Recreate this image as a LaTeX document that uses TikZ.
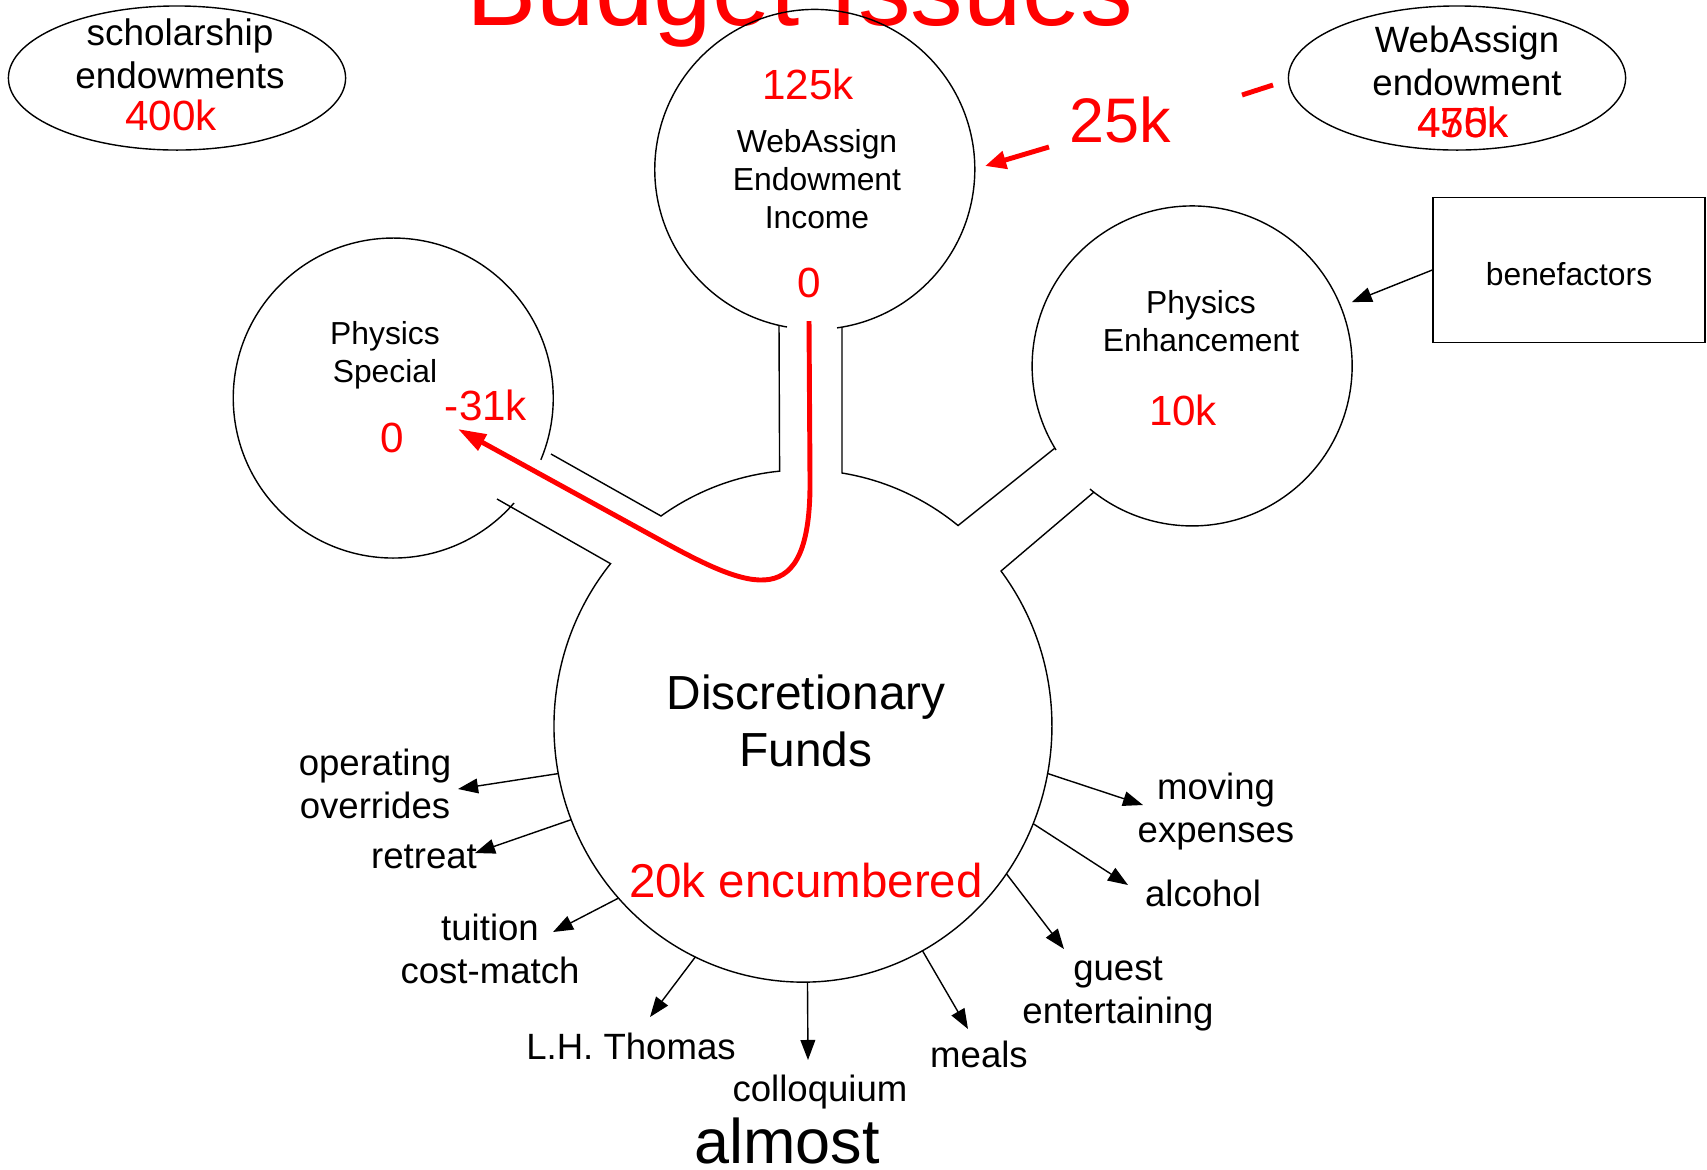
\documentclass[tikz,border=0pt]{standalone}
\usepackage{fontspec}
\setmainfont{Liberation Sans}
\usetikzlibrary{arrows.meta,shapes.geometric,positioning}
\tikzset{%
	txt/.style     = {font=\fontsize{10.4}{12.2}\selectfont, align=center, anchor=base, inner sep=0pt},
	intxt/.style   = {font=\fontsize{9.05}{10.7}\selectfont, align=center, anchor=base, inner sep=0pt},
	num/.style     = {text=red, font=\fontsize{12}{14}\selectfont, anchor=base, inner sep=0pt},
	bignum/.style  = {text=red, font=\fontsize{17.9}{20}\selectfont, anchor=base, inner sep=0pt},
	outline/.style = {line width=0.4pt},
	arrow/.style   = {line width=0.4pt, -{Triangle[length=5.7pt,width=4.2pt]}},
	money/.style   = {red, line width=1.4pt},
	pool/.style    = {circle, minimum size=3.2cm, inner sep=0pt, outer sep=0pt},
	fund/.style    = {draw, ellipse, line width=0.4pt, inner sep=0pt, minimum width=3.37cm, minimum height=1.44cm},
}
\begin{document}
\begin{tikzpicture}[x=0.01cm, y=-0.01cm]
	\useasboundingbox (0,0) rectangle (1707,1169);
	\node[text=red, font=\fontsize{29.9}{32}\selectfont, anchor=base, inner sep=0pt] (title) at (800,25) {Budget Issues};
	
	\node[fund] (schol) at (177,78) {};
	\node[txt, font=\fontsize{10.5}{12.2}\selectfont] (scholtxt) at (180,88) {scholarship\\endowments};
	\node[num] (schol-amt) at (171,130) {400k};
	\node[fund] (wae) at (1457,78) {};
	\node[txt] (waetxt) at (1467,95) {WebAssign\\endowment};
	\node[num] (wae-old) at (1463,137) {450k};
	\node[num] (wae-new) at (1463,137) {475k};
	
	\node[pool] (income) at (815,169) {};
	\node[pool] (special) at (393,398) {};
	\node[pool] (enhance) at (1192,366) {};
	\node[ellipse, minimum width=4.98cm, minimum height=5.12cm, inner sep=0pt, outer sep=0pt] (disc) at (803,726) {};
	
	\draw[outline] (787,327) arc[start angle=100, end angle=442, radius=160];
	\draw[outline] (514,503) arc[start angle=41, end angle=382.7, radius=160];
	\draw[outline] (1056,450) arc[start angle=148.3, end angle=489.7, radius=160];
	\draw[outline] (551,454) -- (661,516) arc[start angle=235.1, end angle=264.5, x radius=249, y radius=256] -- (779,325);
	\draw[outline] (842,327) -- (842,473) arc[start angle=279, end angle=308.5, x radius=249, y radius=256] -- (1055,448);
	\draw[outline] (1094,492) -- (1001,571) arc[start angle=-37.3, end angle=219.4, x radius=249, y radius=256] -- (497,499);
	
	\node[num] (inc-top) at (808,99) {125k};
	\node[intxt] (inctxt) at (817,228) {WebAssign\\Endowment\\Income};
	\node[num] (inc-bal) at (809,297) {0};
	\node[intxt] (spectxt) at (385,382) {Physics\\Special};
	\node[num] (spec-bal) at (392,452) {0};
	\node[num] (spec-out) at (486,420) {-31k};
	\node[intxt] (enhtxt) at (1201,351) {Physics\\Enhancement};
	\node[num] (enh-bal) at (1183,425) {10k};
	\node[txt, font=\fontsize{13.6}{16.2}\selectfont] (disctxt) at (806,766) {Discretionary\\Funds};
	\node[num, font=\fontsize{13.5}{16}\selectfont] (disc-enc) at (806,897) {20k encumbered};
	\node[bignum] (transfer) at (1120,142) {25k};
	\node[intxt, draw, line width=0.4pt, anchor=center, text height=0.32cm, minimum width=2.72cm, minimum height=1.45cm] (bene) at (1569,270) {benefactors};
	
	\node[txt] (ops) at (375,818) {operating\\overrides};
	\node[txt] (retreat) at (424,868) {retreat};
	\node[txt] (tuition) at (490,983) {tuition\\cost-match};
	\node[txt] (thomas) at (631,1059) {L.H. Thomas};
	\node[txt] (colloq) at (820,1101) {colloquium};
	\node[txt] (meals) at (979,1067) {meals};
	\node[txt] (guest) at (1118,1023) {guest\\entertaining};
	\node[txt] (alcohol) at (1203,906) {alcohol};
	\node[txt] (moving) at (1216,842) {moving\\expenses};
	\node[font=\fontsize{17.9}{20}\selectfont, anchor=base, inner sep=0pt] (almost) at (787,1163) {almost};
	
	\coordinate (ops-in) at (458,789);
	\coordinate (retreat-in) at (475,853);
	\coordinate (tuition-in) at (553,932);
	\coordinate (thomas-in) at (650,1017);
	\coordinate (colloq-in) at (808,1060);
	\coordinate (meals-in) at (968,1029);
	\coordinate (guest-in) at (1064,949);
	\coordinate (alcohol-in) at (1128,885);
	\coordinate (moving-in) at (1143,805);
	\draw[arrow] (disc.191) -- (ops-in);
	\draw[arrow] (disc.202) -- (retreat-in);
	\draw[arrow] (disc.223) -- (tuition-in);
	\draw[arrow] (disc.245) -- (thomas-in);
	\draw[arrow] (disc.271) -- (colloq-in);
	\draw[arrow] (disc.298) -- (meals-in);
	\draw[arrow] (disc.324) -- (guest-in);
	\draw[arrow] (disc.337) -- (alcohol-in);
	\draw[arrow] (disc.349) -- (moving-in);
	\draw[arrow, shorten >=1.2mm] (bene.west) -- (enhance);
	
	\coordinate (wa-from) at (1273,85);
	\coordinate (wa-gap1) at (1242,95);
	\coordinate (wa-gap2) at (1049,147);
	\coordinate (wa-to) at (985,166);
	\draw[money] (wa-from) -- (wa-gap1);
	\draw[money, -{Triangle[length=6pt,width=5pt]}] (wa-gap2) -- (wa-to);
	\coordinate (spend-from) at (809,321);
	\coordinate (spend-to) at (458,429);
	\draw[money, -{Triangle[length=8pt,width=5pt]}] (spend-from) -- (810,480) .. controls (811,615) and (751,590) .. (660,540) -- (spend-to);
\end{tikzpicture}
\end{document}
